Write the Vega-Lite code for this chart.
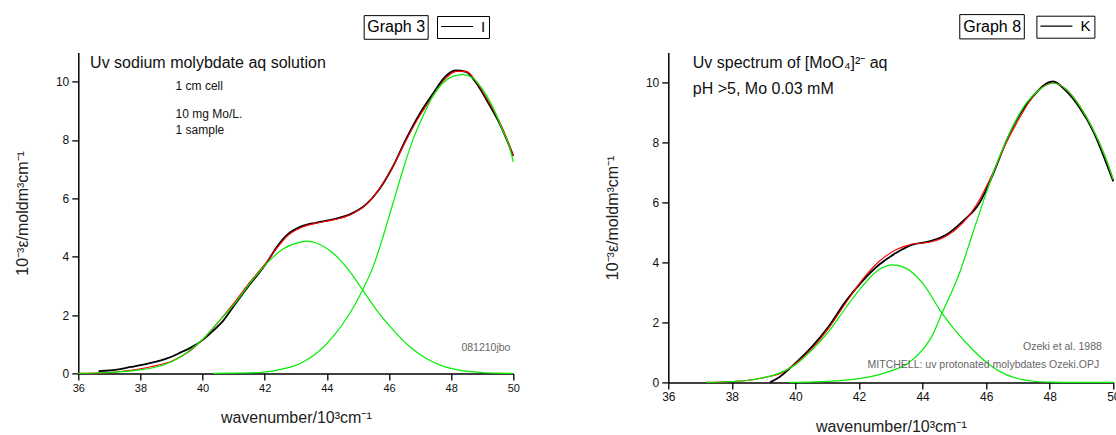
{
  "$schema": "https://vega.github.io/schema/vega-lite/v6.json",
  "autosize": {"type": "none"},
  "padding": {"left": 78.3, "top": 52.4, "right": 1037.7, "bottom": 382.6},
  "background": "white",
  "config": {
    "view": {"stroke": null},
    "font": "Liberation Sans",
    "axis": {
      "grid": false,
      "domainColor": "#000000",
      "domainWidth": 1.5,
      "tickColor": "#000000",
      "tickWidth": 1.3,
      "labelFont": "Liberation Sans",
      "labelFontSize": 12,
      "labelColor": "#111111",
      "labelOverlap": false,
      "labelFlush": false,
      "titleFont": "Liberation Sans",
      "titleFontSize": 16,
      "titleFontWeight": "normal",
      "titleColor": "#222222"
    }
  },
  "datasets": {
    "leftI": [{"x":36.65,"y":0.08},{"x":37.0,"y":0.1},{"x":37.24,"y":0.13},{"x":37.68,"y":0.22},{"x":38.0,"y":0.28},{"x":38.33,"y":0.36},{"x":38.66,"y":0.45},{"x":39.0,"y":0.57},{"x":39.3,"y":0.72},{"x":39.65,"y":0.9},{"x":40.0,"y":1.14},{"x":40.33,"y":1.45},{"x":40.66,"y":1.8},{"x":41.0,"y":2.3},{"x":41.5,"y":3.02},{"x":42.07,"y":3.8},{"x":42.4,"y":4.35},{"x":42.71,"y":4.74},{"x":43.14,"y":5.02},{"x":43.67,"y":5.17},{"x":44.2,"y":5.28},{"x":44.74,"y":5.45},{"x":45.27,"y":5.8},{"x":45.7,"y":6.33},{"x":46.13,"y":7.1},{"x":46.56,"y":8.05},{"x":46.98,"y":8.88},{"x":47.41,"y":9.58},{"x":47.84,"y":10.2},{"x":48.16,"y":10.38},{"x":48.48,"y":10.33},{"x":48.8,"y":9.96},{"x":49.23,"y":9.2},{"x":49.55,"y":8.58},{"x":49.87,"y":7.8},{"x":50.0,"y":7.45}],
    "leftFit": [{"x":36.0,"y":0.0},{"x":37.0,"y":0.03},{"x":37.68,"y":0.11},{"x":38.33,"y":0.23},{"x":39.0,"y":0.42},{"x":39.65,"y":0.82},{"x":40.0,"y":1.16},{"x":40.5,"y":1.75},{"x":41.0,"y":2.4},{"x":41.5,"y":3.1},{"x":42.07,"y":3.83},{"x":42.4,"y":4.3},{"x":42.71,"y":4.69},{"x":43.14,"y":4.98},{"x":43.67,"y":5.15},{"x":44.2,"y":5.26},{"x":44.74,"y":5.43},{"x":45.27,"y":5.78},{"x":45.7,"y":6.35},{"x":46.13,"y":7.09},{"x":46.56,"y":8.01},{"x":46.98,"y":8.81},{"x":47.41,"y":9.5},{"x":47.84,"y":10.13},{"x":48.16,"y":10.35},{"x":48.48,"y":10.35},{"x":48.8,"y":10.01},{"x":49.23,"y":9.27},{"x":49.55,"y":8.64},{"x":49.87,"y":7.84},{"x":50.0,"y":7.45}],
    "leftP1": [{"x":36.0,"y":0.0},{"x":37.0,"y":0.03},{"x":37.9,"y":0.11},{"x":38.5,"y":0.22},{"x":39.0,"y":0.4},{"x":39.5,"y":0.72},{"x":40.0,"y":1.16},{"x":40.47,"y":1.72},{"x":41.0,"y":2.35},{"x":41.53,"y":3.09},{"x":42.07,"y":3.78},{"x":42.6,"y":4.27},{"x":43.14,"y":4.5},{"x":43.4,"y":4.53},{"x":43.67,"y":4.46},{"x":44.2,"y":4.12},{"x":44.74,"y":3.49},{"x":45.15,"y":2.86},{"x":45.6,"y":2.17},{"x":46.13,"y":1.49},{"x":46.66,"y":0.92},{"x":47.2,"y":0.51},{"x":47.73,"y":0.25},{"x":48.26,"y":0.11},{"x":49.0,"y":0.03},{"x":49.5,"y":0.01},{"x":50.0,"y":0.0}],
    "leftP2": [{"x":40.35,"y":0.0},{"x":41.0,"y":0.01},{"x":41.85,"y":0.03},{"x":42.39,"y":0.11},{"x":43.14,"y":0.34},{"x":43.67,"y":0.69},{"x":44.2,"y":1.26},{"x":44.74,"y":2.06},{"x":45.15,"y":2.86},{"x":45.49,"y":3.66},{"x":45.81,"y":4.69},{"x":46.13,"y":5.84},{"x":46.45,"y":6.98},{"x":46.77,"y":8.01},{"x":47.09,"y":8.81},{"x":47.41,"y":9.5},{"x":47.73,"y":9.95},{"x":48.05,"y":10.18},{"x":48.37,"y":10.24},{"x":48.69,"y":10.13},{"x":49.01,"y":9.73},{"x":49.33,"y":9.15},{"x":49.65,"y":8.35},{"x":49.87,"y":7.78},{"x":50.0,"y":7.25}],
    "rightK": [{"x":39.2,"y":0.0},{"x":39.5,"y":0.18},{"x":40.0,"y":0.64},{"x":40.53,"y":1.2},{"x":41.05,"y":1.87},{"x":41.58,"y":2.7},{"x":42.1,"y":3.37},{"x":42.63,"y":3.92},{"x":43.16,"y":4.31},{"x":43.68,"y":4.59},{"x":44.21,"y":4.7},{"x":44.74,"y":4.92},{"x":45.26,"y":5.37},{"x":45.79,"y":5.98},{"x":46.21,"y":6.92},{"x":46.63,"y":8.03},{"x":47.05,"y":8.92},{"x":47.47,"y":9.53},{"x":47.89,"y":9.96},{"x":48.1,"y":10.03},{"x":48.53,"y":9.7},{"x":48.95,"y":9.14},{"x":49.37,"y":8.37},{"x":49.74,"y":7.42},{"x":50.0,"y":6.7}],
    "rightFit": [{"x":37.2,"y":0.0},{"x":38.0,"y":0.03},{"x":38.6,"y":0.08},{"x":39.0,"y":0.16},{"x":39.47,"y":0.27},{"x":40.0,"y":0.62},{"x":40.53,"y":1.14},{"x":41.05,"y":1.81},{"x":41.58,"y":2.64},{"x":42.1,"y":3.42},{"x":42.63,"y":4.03},{"x":43.16,"y":4.42},{"x":43.68,"y":4.61},{"x":44.21,"y":4.67},{"x":44.74,"y":4.87},{"x":45.26,"y":5.31},{"x":45.79,"y":6.09},{"x":46.21,"y":6.98},{"x":46.63,"y":7.98},{"x":47.05,"y":8.81},{"x":47.47,"y":9.53},{"x":47.89,"y":9.92},{"x":48.1,"y":9.98},{"x":48.53,"y":9.76},{"x":48.95,"y":9.2},{"x":49.37,"y":8.42},{"x":49.74,"y":7.53},{"x":50.0,"y":6.76}],
    "rightP1": [{"x":37.2,"y":0.0},{"x":38.0,"y":0.03},{"x":38.6,"y":0.08},{"x":39.0,"y":0.16},{"x":39.47,"y":0.3},{"x":40.0,"y":0.59},{"x":40.53,"y":1.09},{"x":41.05,"y":1.7},{"x":41.58,"y":2.48},{"x":42.1,"y":3.2},{"x":42.63,"y":3.76},{"x":43.05,"y":3.92},{"x":43.47,"y":3.81},{"x":44.0,"y":3.31},{"x":44.61,"y":2.31},{"x":45.05,"y":1.7},{"x":45.58,"y":1.09},{"x":46.1,"y":0.59},{"x":46.63,"y":0.26},{"x":47.16,"y":0.09},{"x":47.58,"y":0.03},{"x":48.0,"y":0.01},{"x":48.8,"y":0.0},{"x":50.0,"y":0.0}],
    "rightP2": [{"x":39.8,"y":0.0},{"x":40.6,"y":0.02},{"x":41.47,"y":0.07},{"x":42.1,"y":0.14},{"x":42.63,"y":0.26},{"x":43.05,"y":0.4},{"x":43.47,"y":0.59},{"x":44.0,"y":1.09},{"x":44.3,"y":1.55},{"x":44.61,"y":2.31},{"x":45.16,"y":3.64},{"x":45.58,"y":4.98},{"x":46.0,"y":6.31},{"x":46.42,"y":7.53},{"x":46.84,"y":8.53},{"x":47.26,"y":9.31},{"x":47.68,"y":9.76},{"x":48.1,"y":9.98},{"x":48.53,"y":9.76},{"x":48.95,"y":9.2},{"x":49.37,"y":8.42},{"x":49.74,"y":7.53},{"x":50.0,"y":6.76}]
  },
  "hconcat": [
    {
      "width": 435,
      "height": 321,
      "layer": [
        {
          "encoding": {
            "x": {"field": "x", "type": "quantitative", "title": "wavenumber/10³cm⁻¹",
              "scale": {"domain": [36, 50], "nice": false, "zero": false},
              "axis": {"format": "d", "labelOverlap": false, "labelFontSize": 11,
                "values": [36,36.5,37,37.5,38,38.5,39,39.5,40,40.5,41,41.5,42,42.5,43,43.5,44,44.5,45,45.5,46,46.5,47,47.5,48,48.5,49,49.5,50],
                "labelExpr": "datum.value % 1 === 0 ? datum.label : ''",
                "tickSize": {"condition": {"test": "datum.value % 1 === 0", "value": 6.5}, "value": 3.5},
                "labelPadding": 3, "titlePadding": 16}},
            "y": {"field": "y", "type": "quantitative", "title": "10⁻³ε/moldm³cm⁻¹",
              "scale": {"domain": [0, 11], "nice": false, "zero": false},
              "axis": {"format": "d", "labelOverlap": false,
                "values": [0,1,2,3,4,5,6,7,8,9,10,11],
                "labelExpr": "datum.value % 2 === 0 ? datum.label : ''",
                "tickSize": {"condition": {"test": "datum.value % 2 === 0", "value": 6.5}, "value": 3.5},
                "labelPadding": 3, "titlePadding": 25}}
          },
          "layer": [
            {"data": {"name": "leftI"}, "mark": {"type": "line", "strokeWidth": 1.8, "interpolate": "monotone"},
              "encoding": {
                "color": {"datum": "I", "type": "nominal", "scale": {"range": ["#000000"]},
                  "legend": {"orient": "none", "legendX": 358.7, "legendY": -36.4, "title": null, "strokeColor": "#000000", "fillColor": "#ffffff", "padding": 3, "clipHeight": 15, "symbolType": "stroke", "symbolSize": 1024, "symbolStrokeWidth": 1.2, "labelFont": "Liberation Sans", "labelFontSize": 15, "labelColor": "#000000", "labelOffset": 7}}}},
            {"data": {"name": "leftFit"}, "mark": {"type": "line", "color": "#ff0000", "strokeWidth": 1.1, "interpolate": "monotone"}, "encoding": {}},
            {"data": {"name": "leftP1"}, "mark": {"type": "line", "color": "#00ee00", "strokeWidth": 1.2, "interpolate": "monotone"}, "encoding": {}},
            {"data": {"name": "leftP2"}, "mark": {"type": "line", "color": "#00ee00", "strokeWidth": 1.2, "interpolate": "monotone"}, "encoding": {}}
          ]
        },
        {"data": {"values": [{"t": "box"}]}, "mark": {"type": "rect", "fill": "#ffffff", "stroke": "#000000", "strokeWidth": 1},
          "encoding": {"x": {"datum": 45.2, "type": "quantitative"}, "x2": {"datum": 47.26}, "y": {"datum": 12.26, "type": "quantitative"}, "y2": {"datum": 11.45}}},
        {"data": {"values": [{"t": "Graph 3"}]}, "mark": {"type": "text", "align": "center", "baseline": "middle", "fontSize": 16, "font": "Liberation Sans", "color": "#000000"},
          "encoding": {"x": {"datum": 46.23, "type": "quantitative"}, "y": {"datum": 11.86, "type": "quantitative"}, "text": {"field": "t"}}},
        {"data": {"values": [{"t": "Uv sodium molybdate aq solution"}]}, "mark": {"type": "text", "align": "left", "baseline": "middle", "fontSize": 16, "font": "Liberation Sans", "color": "#111111"},
          "encoding": {"x": {"datum": 36.38, "type": "quantitative"}, "y": {"datum": 10.63, "type": "quantitative"}, "text": {"field": "t"}}},
        {"data": {"values": [{"t": "1 cm cell"}]}, "mark": {"type": "text", "align": "left", "baseline": "middle", "fontSize": 12, "font": "Liberation Sans", "color": "#111111"},
          "encoding": {"x": {"datum": 39.13, "type": "quantitative"}, "y": {"datum": 9.85, "type": "quantitative"}, "text": {"field": "t"}}},
        {"data": {"values": [{"t": "10 mg Mo/L."}]}, "mark": {"type": "text", "align": "left", "baseline": "middle", "fontSize": 12, "font": "Liberation Sans", "color": "#111111"},
          "encoding": {"x": {"datum": 39.13, "type": "quantitative"}, "y": {"datum": 8.9, "type": "quantitative"}, "text": {"field": "t"}}},
        {"data": {"values": [{"t": "1 sample"}]}, "mark": {"type": "text", "align": "left", "baseline": "middle", "fontSize": 12, "font": "Liberation Sans", "color": "#111111"},
          "encoding": {"x": {"datum": 39.13, "type": "quantitative"}, "y": {"datum": 8.34, "type": "quantitative"}, "text": {"field": "t"}}},
        {"data": {"values": [{"t": "081210jbo"}]}, "mark": {"type": "text", "align": "left", "baseline": "middle", "fontSize": 10.5, "font": "Liberation Sans", "color": "#666666"},
          "encoding": {"x": {"datum": 48.33, "type": "quantitative"}, "y": {"datum": 0.86, "type": "quantitative"}, "text": {"field": "t"}}}
      ]
    },
    {
      "width": 445,
      "height": 330,
      "layer": [
        {
          "encoding": {
            "x": {"field": "x", "type": "quantitative", "title": "wavenumber/10³cm⁻¹",
              "scale": {"domain": [36, 50], "nice": false, "zero": false},
              "axis": {"format": "d", "labelOverlap": false,
                "values": [36,37,38,39,40,41,42,43,44,45,46,47,48,49,50],
                "labelExpr": "datum.value % 2 === 0 ? datum.label : ''",
                "tickSize": {"condition": {"test": "datum.value % 2 === 0", "value": 6.5}, "value": 3.5},
                "labelPadding": 3, "titlePadding": 16}},
            "y": {"field": "y", "type": "quantitative", "title": "10⁻³ε/moldm³cm⁻¹",
              "scale": {"domain": [0, 11], "nice": false, "zero": false},
              "axis": {"format": "d", "labelOverlap": false,
                "values": [0,1,2,3,4,5,6,7,8,9,10,11],
                "labelExpr": "datum.value % 2 === 0 ? datum.label : ''",
                "tickSize": {"condition": {"test": "datum.value % 2 === 0", "value": 6.5}, "value": 3.5},
                "labelPadding": 3, "titlePadding": 25}}
          },
          "layer": [
            {"data": {"name": "rightK"}, "mark": {"type": "line", "strokeWidth": 1.8, "interpolate": "monotone"},
              "encoding": {
                "color": {"datum": "K", "type": "nominal", "scale": {"range": ["#000000"]},
                  "legend": {"orient": "none", "legendX": 368.1, "legendY": -36.7, "title": null, "strokeColor": "#000000", "fillColor": "#ffffff", "padding": 3, "clipHeight": 15, "symbolType": "stroke", "symbolSize": 1024, "symbolStrokeWidth": 1.2, "labelFont": "Liberation Sans", "labelFontSize": 15, "labelColor": "#000000", "labelOffset": 7}}}},
            {"data": {"name": "rightFit"}, "mark": {"type": "line", "color": "#ff0000", "strokeWidth": 1.1, "interpolate": "monotone"}, "encoding": {}},
            {"data": {"name": "rightP1"}, "mark": {"type": "line", "color": "#00ee00", "strokeWidth": 1.2, "interpolate": "monotone"}, "encoding": {}},
            {"data": {"name": "rightP2"}, "mark": {"type": "line", "color": "#00ee00", "strokeWidth": 1.2, "interpolate": "monotone"}, "encoding": {}}
          ]
        },
        {"data": {"values": [{"t": "box"}]}, "mark": {"type": "rect", "fill": "#ffffff", "stroke": "#000000", "strokeWidth": 1},
          "encoding": {"x": {"datum": 45.17, "type": "quantitative"}, "x2": {"datum": 47.2}, "y": {"datum": 12.26, "type": "quantitative"}, "y2": {"datum": 11.45}}},
        {"data": {"values": [{"t": "Graph 8"}]}, "mark": {"type": "text", "align": "center", "baseline": "middle", "fontSize": 16, "font": "Liberation Sans", "color": "#000000"},
          "encoding": {"x": {"datum": 46.19, "type": "quantitative"}, "y": {"datum": 11.86, "type": "quantitative"}, "text": {"field": "t"}}},
        {"data": {"values": [{"t": "Uv spectrum of [MoO₄]²⁻ aq"}]}, "mark": {"type": "text", "align": "left", "baseline": "middle", "fontSize": 16, "font": "Liberation Sans", "color": "#111111"},
          "encoding": {"x": {"datum": 36.77, "type": "quantitative"}, "y": {"datum": 10.65, "type": "quantitative"}, "text": {"field": "t"}}},
        {"data": {"values": [{"t": "pH >5, Mo 0.03 mM"}]}, "mark": {"type": "text", "align": "left", "baseline": "middle", "fontSize": 16, "font": "Liberation Sans", "color": "#111111"},
          "encoding": {"x": {"datum": 36.77, "type": "quantitative"}, "y": {"datum": 9.78, "type": "quantitative"}, "text": {"field": "t"}}},
        {"data": {"values": [{"t": "Ozeki et al. 1988"}]}, "mark": {"type": "text", "align": "left", "baseline": "middle", "fontSize": 10.5, "font": "Liberation Sans", "color": "#666666"},
          "encoding": {"x": {"datum": 47.16, "type": "quantitative"}, "y": {"datum": 1.18, "type": "quantitative"}, "text": {"field": "t"}}},
        {"data": {"values": [{"t": "MITCHELL: uv protonated molybdates Ozeki.OPJ"}]}, "mark": {"type": "text", "align": "left", "baseline": "middle", "fontSize": 10.5, "font": "Liberation Sans", "color": "#666666"},
          "encoding": {"x": {"datum": 42.27, "type": "quantitative"}, "y": {"datum": 0.59, "type": "quantitative"}, "text": {"field": "t"}}}
      ]
    }
  ],
  "spacing": 84,
  "align": "none",
  "resolve": {
    "scale": {"x": "independent", "y": "independent", "color": "independent"},
    "axis": {"x": "independent", "y": "independent"},
    "legend": {"color": "independent"}
  }
}
